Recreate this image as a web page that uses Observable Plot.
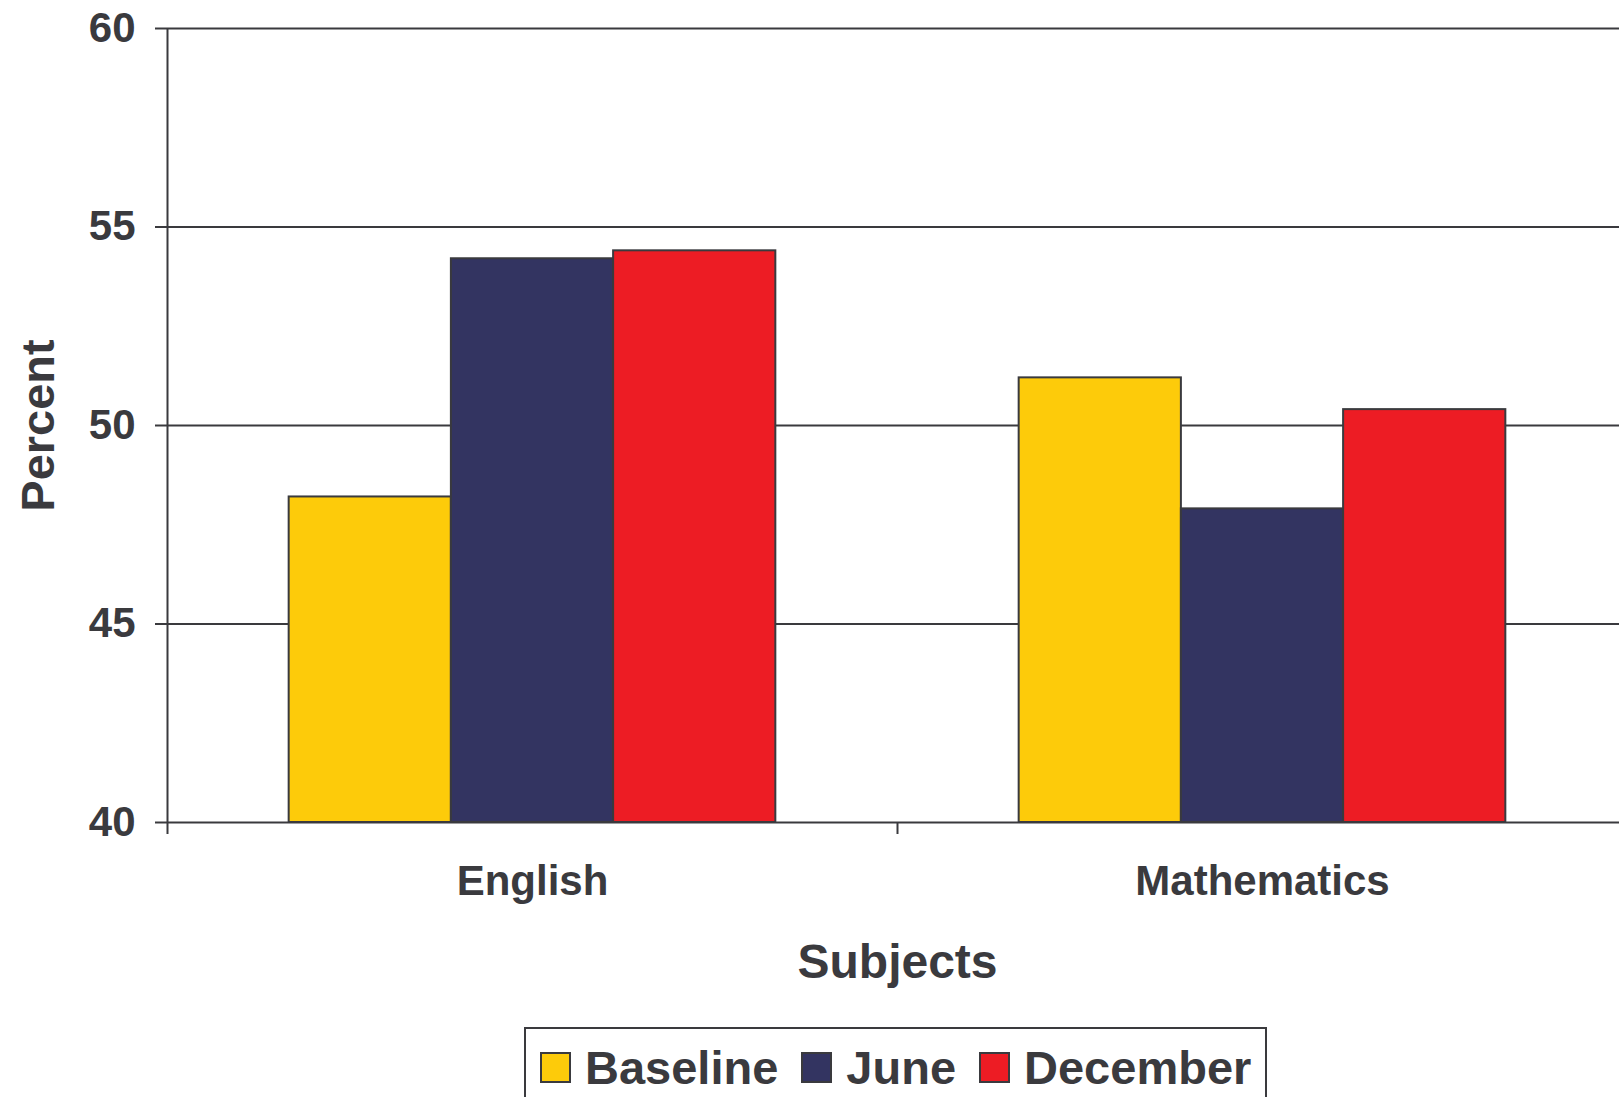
<!DOCTYPE html>
<html>
<head>
<meta charset="utf-8">
<script src="https://cdn.jsdelivr.net/npm/d3@7"></script>
<script src="https://cdn.jsdelivr.net/npm/@observablehq/plot@0.6"></script>
<style>
  html, body { margin: 0; padding: 0; background: #fff; overflow: hidden; }
  #chart svg { display: block; max-width: none !important; }
  .legend {
    display: flex;
    width: max-content;
    align-items: center;
    height: 76px;
    margin: 27px 0 0 524px;
    padding: 0 14px;
    border: 2px solid #3a3a3e;
    font: bold 47px "Liberation Sans", Arial, Helvetica, sans-serif;
    color: #3a3a3e;
  }
  .legend .item { display: flex; align-items: center; margin-right: 23px; }
  .legend .item:last-child { margin-right: 0; }
  .legend .swatch { width: 27px; height: 27px; border: 2px solid #3a3a3e; margin-right: 14px; }
  .legend .label { line-height: 1; }
</style>
</head>
<body>
<div id="chart"></div>
<div class="legend" id="legend"></div>
<script>
const subjects = ["English", "Mathematics"];
const periods = ["Baseline", "June", "December"];
const baseline = [48.2, 51.2];
const june = [54.2, 47.9];
const december = [54.4, 50.4];
const yTicks = [40, 45, 50, 55, 60];
const periodColors = ["#fdcb0a", "#333461", "#ed1c24"];
const ink = "#3a3a3e";

const seriesValues = [baseline, june, december];

// Each subject owns one unit of x; the three periods sit side by side in the
// middle of that unit, with empty space on either side of the group.
const within = d3.scaleBand().domain(periods).range([0, 1]).paddingInner(0).paddingOuter(0.75);

const rows = subjects.flatMap((subject, g) =>
  periods.map((period, s) => ({
    subject,
    period,
    value: seriesValues[s][g],
    x1: g + within(period),
    x2: g + within(period) + within.bandwidth()
  }))
);

const chart = Plot.plot({
  width: 1640,
  height: 1000,
  marginLeft: 167,
  marginRight: 13,
  marginTop: 28,
  marginBottom: 178,
  style: {
    fontFamily: "'Liberation Sans', Arial, Helvetica, sans-serif",
    fontWeight: "bold",
    color: ink,
    background: "white",
    maxWidth: "none"
  },
  x: {domain: [0, subjects.length], axis: null},
  y: {domain: [40, 60], axis: null},
  color: {domain: periods, range: periodColors},
  marks: [
    Plot.gridY(yTicks.slice(1), {stroke: ink, strokeOpacity: 1, strokeWidth: 2}),
    Plot.rectY(rows, {x1: "x1", x2: "x2", y1: 40, y2: "value", fill: "period", stroke: ink, strokeWidth: 2}),
    Plot.ruleY([40], {stroke: ink, strokeWidth: 2}),
    // vertical axis line, running a little past the baseline
    Plot.ruleX([0], {y1: 60, y2: 40, insetBottom: -12, stroke: ink, strokeWidth: 2}),
    // tick marks between the subject categories
    Plot.ruleX(d3.range(1, subjects.length + 1), {y1: 40, y2: 40, insetBottom: -12, stroke: ink, strokeWidth: 2}),
    Plot.axisY(yTicks, {
      tickSize: 12, tickPadding: 20, fontSize: 42, color: ink, strokeWidth: 2,
      strokeOpacity: 1, tickFormat: (d) => String(d), label: null
    }),
    Plot.axisX(subjects.map((_, g) => g + 0.5), {
      tickSize: 0, tickPadding: 43, fontSize: 42, color: ink,
      tickFormat: (d) => subjects[Math.floor(d)], label: null
    }),
    Plot.text(["Subjects"], {frameAnchor: "bottom", lineAnchor: "bottom", dy: 155, fontSize: 48, fill: ink}),
    Plot.text(["Percent"], {
      frameAnchor: "left", textAnchor: "middle", rotate: -90, lineAnchor: "bottom",
      dx: -114, fontSize: 47, fill: ink
    })
  ]
});

document.getElementById("chart").appendChild(chart);

const legend = d3.select("#legend");
periods.forEach((p, i) => {
  const item = legend.append("div").attr("class", "item");
  item.append("div").attr("class", "swatch").style("background", periodColors[i]);
  item.append("span").attr("class", "label").text(p);
});
</script>
</body>
</html>
